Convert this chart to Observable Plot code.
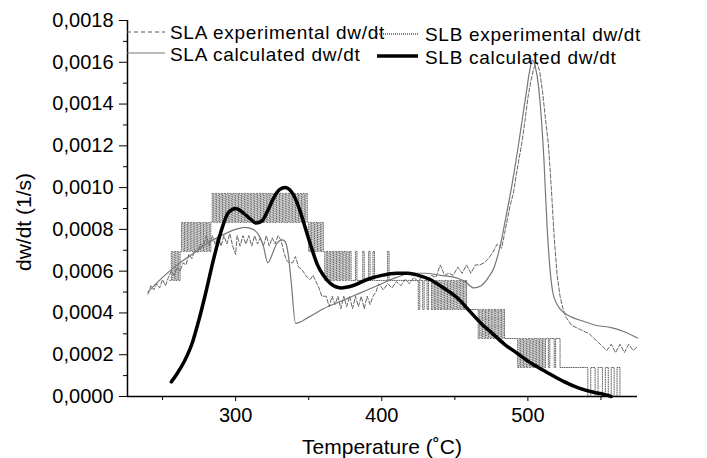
<!DOCTYPE html>
<html><head><meta charset="utf-8">
<script src="https://cdn.jsdelivr.net/npm/d3@7"></script>
<script src="https://cdn.jsdelivr.net/npm/@observablehq/plot@0.6"></script>
<style>
body{margin:0;background:#fff;font-family:"Liberation Sans",Arial,sans-serif;}
#wrap{position:relative;width:707px;height:458px;}
#legend{position:absolute;left:0;top:0;pointer-events:none;}
#legend text{font-size:19px;letter-spacing:0.7px;fill:#000;dominant-baseline:central;font-family:"Liberation Sans",Arial,sans-serif;}
#legend text.title{font-size:21px;letter-spacing:0;}
</style></head><body>
<div id="wrap"><div id="chart"></div>
<svg id="legend" width="707" height="458">
  <line x1="127" x2="165" y1="32" y2="32" stroke="#555" stroke-width="1" stroke-dasharray="4,3"/>
  <text x="170" y="32">SLA experimental dw/dt</text>
  <line x1="127" x2="165" y1="53" y2="53" stroke="#777" stroke-width="1.2"/>
  <text x="170" y="54">SLA calculated dw/dt</text>
  <line x1="377" x2="418" y1="34" y2="34" stroke="#000" stroke-width="1" stroke-dasharray="1,1"/>
  <text x="425" y="34">SLB experimental dw/dt</text>
  <line x1="377" x2="418" y1="56" y2="56" stroke="#000" stroke-width="3.5"/>
  <text x="425" y="57">SLB calculated dw/dt</text>
  <text class="title" x="382" y="446" text-anchor="middle">Temperature (˚C)</text>
  <text class="title" transform="translate(23,222) rotate(-90)" text-anchor="middle">dw/dt (1/s)</text>
</svg></div>
<script>
// axes
const xDomain = [226, 575];
const yDomain = [0, 0.0018];
const xTicks = [300, 400, 500];
const xMinor = [250, 350, 450, 550];
const yTicks = [0, 0.0002, 0.0004, 0.0006, 0.0008, 0.0010, 0.0012, 0.0014, 0.0016, 0.0018];
const yMinor = [0.0001, 0.0003, 0.0005, 0.0007, 0.0009, 0.0011, 0.0013, 0.0015, 0.0017];

// SLA experimental dw/dt
const slaExpT = [240,242,244,246,248,250,252,254,256,258,260,262,264,266,268,270,272,274,276,278,280,282,284,286,288,290,292,294,296,298,300,301,303,305,307,309,311,313,315,317,319,321,323,325,327,329,331,333,335,337,339,341,343,345,347,349,351,353,355,357,359,362,364,366,368,370,372,374,376,378,380,382,384,386,388,390,392,394,396,398,401,404,407,410,413,416,419,422,425,428,431,434,437,440,443,446,449,452,455,458,461,464,467,470,473,476,479,482,484,486,488,490,492,494,496,498,500,502,504,506,508,510,512,514,516,518,520,522,524,526,528,530,533,536,539,542,545,548,551,554,557,560,563,566,569,572,575];
const slaExpV = [0.00049,0.00053,0.00051,0.00054,0.00052,0.00056,0.00053,0.00057,0.00060,0.00058,0.00062,0.00060,0.00064,0.00063,0.00068,0.00066,0.00070,0.00069,0.00073,0.00072,0.00077,0.00072,0.00077,0.00073,0.00077,0.00072,0.00077,0.00073,0.00078,0.00072,0.00068,0.00077,0.00072,0.00077,0.00073,0.00077,0.00072,0.00077,0.00073,0.00076,0.00072,0.00077,0.00072,0.00076,0.00073,0.00077,0.00075,0.00069,0.00065,0.00064,0.00064,0.00067,0.00062,0.00061,0.00059,0.00057,0.00056,0.00058,0.00055,0.00052,0.00048,0.00048,0.00043,0.00048,0.00044,0.00048,0.00042,0.00048,0.00043,0.00048,0.00042,0.00048,0.00043,0.00048,0.00042,0.00048,0.00044,0.00048,0.00050,0.00054,0.00051,0.00054,0.00052,0.00055,0.00053,0.00056,0.00054,0.00057,0.00055,0.00058,0.00056,0.00058,0.00057,0.00063,0.00058,0.00059,0.00058,0.00062,0.00059,0.00063,0.00059,0.00063,0.00063,0.00064,0.00066,0.00069,0.00073,0.00071,0.00078,0.00085,0.00092,0.00097,0.00106,0.00114,0.00122,0.00132,0.00143,0.00151,0.00157,0.00160,0.00156,0.00146,0.00133,0.00121,0.00100,0.00076,0.00058,0.00048,0.00042,0.00038,0.00036,0.00034,0.00033,0.00032,0.00031,0.00030,0.00028,0.00026,0.00024,0.00022,0.00025,0.00021,0.00025,0.00021,0.00025,0.00022,0.00024];

// SLA calculated dw/dt
const slaCalcT = [240,250,260,270,280,290,300,306,312,316,319,322,325,328,332,334,336,338,341,350,360,370,380,390,400,410,420,430,440,450,457,463,468,473,477,481,485,489,493,496,499,501,503,505,507,509,511,513,515,517,520,525,530,538,547,557,566,575];
const slaCalcV = [0.00050,0.00057,0.00063,0.00068,0.00073,0.00077,0.00080,0.00081,0.00080,0.00077,0.00072,0.00064,0.00068,0.00073,0.00075,0.00074,0.00068,0.00055,0.00035,0.00038,0.00042,0.00045,0.00048,0.00051,0.00054,0.00057,0.00059,0.00059,0.00058,0.00057,0.00055,0.00052,0.00053,0.00057,0.00062,0.00072,0.00086,0.00101,0.00118,0.00132,0.00146,0.00155,0.00161,0.00158,0.00150,0.00135,0.00113,0.00083,0.00062,0.00050,0.00044,0.00040,0.00038,0.00036,0.00034,0.00033,0.00031,0.00028];

// SLB experimental dw/dt: quantized signal, value = level * slbQuantum
const slbQuantum = 0.0001389;
const slbExpT = [255,256,257,258,259,260,261,262,
 263,264,265,266,267,268,269,270,271,272,273,274,275,276,277,278,279,280,281,282,283,
 284,285,286,287,288,289,290,291,292,293,294,295,296,297,298,299,300,301,302,303,304,305,306,307,308,309,310,311,312,313,314,315,316,317,318,319,320,321,322,323,324,325,326,327,328,329,330,331,332,333,334,335,336,337,338,339,340,341,342,343,344,345,346,347,348,349,
 350,351,352,353,354,355,356,357,358,359,360,
 361,362,363,364,365,366,367,368,369,370,371,372,373,374,375,376,377,378,379,
 382,383,387,388,391,392,394,395,404,405,
 425,426,428,429,431,432,434,435,436,437,438,439,440,441,442,443,444,445,446,447,448,449,450,451,452,453,454,455,456,457,458,
 466,467,468,469,470,471,472,473,474,475,476,477,478,479,480,481,482,483,484,
 493,494,495,496,497,498,499,500,501,502,503,504,505,506,507,508,509,510,511,512,514,515,518,519,522,
 541,543,546,548,551,553,555,557,559,561,563];
const slbExpLevel = [4,5,4,5,4,5,4,5,
 6,5,6,5,6,5,6,5,6,5,6,5,6,5,6,5,6,5,6,5,6,
 7,6,7,6,7,6,7,6,7,6,7,6,7,6,7,6,7,6,7,6,7,6,7,6,7,6,7,6,7,6,7,6,7,6,7,6,7,6,7,6,7,6,7,6,7,6,7,6,7,6,7,6,7,6,7,6,7,6,7,6,7,6,7,6,7,6,
 5,6,5,6,5,6,5,6,5,6,5,
 4,5,4,5,4,5,4,5,4,5,4,5,4,5,4,5,4,5,4,
 5,4,5,4,5,4,5,4,5,4,
 3,4,3,4,3,4,3,4,3,4,3,4,3,4,3,4,3,4,3,4,3,4,3,4,3,4,3,4,3,4,3,
 2,3,2,3,2,3,2,3,2,3,2,3,2,3,2,3,2,3,2,
 1,2,1,2,1,2,1,2,1,2,1,2,1,2,1,2,1,2,1,2,1,2,1,2,1,
 0,1,0,1,0,1,0,1,0,1,0];

// SLB calculated dw/dt
const slbCalcT = [256,260,265,270,275,280,285,290,295,300,305,310,314,318,322,326,330,334,337,340,344,348,352,356,360,365,372,380,390,400,410,418,425,433,440,452,460,468,476,484,492,502,512,525,535,545,552,557];
const slbCalcV = [0.00007,0.00011,0.00017,0.00025,0.00037,0.00051,0.00066,0.00079,0.00088,0.00090,0.00088,0.00085,0.00083,0.00084,0.00089,0.00095,0.00099,0.00100,0.00099,0.00096,0.00089,0.00080,0.00071,0.00063,0.00058,0.00054,0.00052,0.00053,0.00056,0.00058,0.00059,0.00059,0.00058,0.00056,0.00053,0.00047,0.00041,0.00035,0.00030,0.00025,0.00021,0.00016,0.00012,0.00007,0.00004,0.00002,0.00001,0.00000];

const slaExp = slaExpT.map((t, i) => ({T: t, v: slaExpV[i]}));
const slaCalc = slaCalcT.map((t, i) => ({T: t, v: slaCalcV[i]}));
const slbExp = slbExpT.map((t, i) => ({T: t, v: slbExpLevel[i] * slbQuantum}));
const slbCalc = slbCalcT.map((t, i) => ({T: t, v: slbCalcV[i]}));

const fmt = v => d3.format(".4f")(v).replace(".", ",");

const chart = Plot.plot({
  width: 707, height: 458,
  marginLeft: 127, marginRight: 70, marginTop: 20, marginBottom: 62,
  style: {fontFamily: "'Liberation Sans', Arial, sans-serif", fontSize: "20px", color: "#000", background: "#fff"},
  x: {domain: xDomain},
  y: {domain: yDomain},
  marks: [
    Plot.axisY({ticks: yTicks, tickFormat: fmt, tickSize: 8, tickPadding: 6, label: null}),
    Plot.axisY({ticks: yMinor, tickSize: 4, text: null, label: null}),
    Plot.axisX({ticks: xTicks, tickSize: 5, tickPadding: 6, label: null}),
    Plot.axisX({ticks: xMinor, tickSize: 4, text: null, label: null}),
    Plot.line(slbExp, {x: "T", y: "v", curve: "step-after", stroke: "#222", strokeWidth: 0.7, strokeDasharray: "1,1.3"}),
    Plot.line(slaExp, {x: "T", y: "v", stroke: "#666", strokeWidth: 1, strokeDasharray: "4,2"}),
    Plot.line(slaCalc, {x: "T", y: "v", curve: "monotone-x", stroke: "#777", strokeWidth: 1.2}),
    Plot.line(slbCalc, {x: "T", y: "v", curve: "monotone-x", stroke: "#000", strokeWidth: 3.5}),
    Plot.ruleX([xDomain[0]], {stroke: "#000", strokeWidth: 1.5}),
    Plot.ruleY([0], {stroke: "#000", strokeWidth: 1.5})
  ]
});
document.getElementById("chart").appendChild(chart);
</script>
</body></html>
